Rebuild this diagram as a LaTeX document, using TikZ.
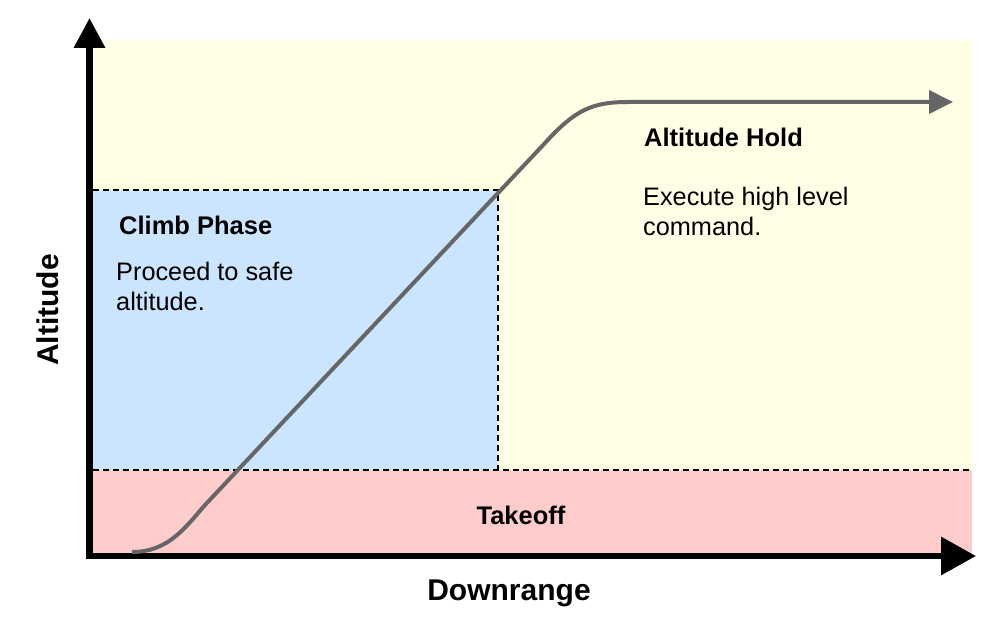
\documentclass[tikz,border=0pt]{standalone}
\usepackage{fontspec}
\setmainfont{Liberation Sans}
\usetikzlibrary{arrows.meta}
\definecolor{holdbg}{HTML}{FFFFE5}
\definecolor{climbbg}{HTML}{CCE5FF}
\definecolor{takeoffbg}{HTML}{FFCCCC}
\definecolor{pathgray}{HTML}{666666}
\tikzset{
  x=1pt, y=-1pt,
  zoneline/.style={line width=1.5pt, dash pattern=on 6pt off 4pt},
  axisline/.style={line width=6.5pt},
  flightpath/.style={draw=pathgray, line width=4pt, line join=round},
  bodytext/.style={inner sep=0pt, font=\fontsize{25.3}{30}\selectfont, align=left},
  headtext/.style={inner sep=0pt, font=\fontsize{25.5}{30}\selectfont\bfseries},
  axistext/.style={inner sep=0pt, font=\fontsize{30}{36}\selectfont\bfseries}
}
\begin{document}
\begin{tikzpicture}
\useasboundingbox (0,0) rectangle (997,623);
% zones
\fill[holdbg] (93,40) rectangle (972,470);
\fill[climbbg] (93,190) rectangle (498,470);
\fill[takeoffbg] (93,470) rectangle (972,553);
\draw[zoneline] (93,190) -- (498,190) -- (498,470);
\draw[zoneline] (93,470) -- (972,470);
% axes
\coordinate (origin) at (89.5,556);
\coordinate (ytip) at (89.5,18);
\coordinate (xtip) at (976,556);
\draw[axisline, -{Triangle[width=30pt,length=30pt]}] (89.5,559) -- (ytip);
\draw[axisline, -{Triangle[width=37pt,length=35pt]}] (86.5,556) -- (xtip);
% flight path
\coordinate (start) at (132,552);
\coordinate (end) at (953,102);
\draw[flightpath, -{Triangle[width=23pt,length=24pt]}] (start) .. controls (168,552) and (185,528) .. (205,505) -- (545,143) .. controls (575,110) and (592,102) .. (628,102) -- (end);
% labels
\node[headtext, anchor=base west] (holdtitle) at (644,147) {Altitude Hold};
\node[bodytext, anchor=base west] (holdtext) at (643,236) {Execute high level\\command.};
\node[headtext, anchor=base west] (climbtitle) at (119,234) {Climb Phase};
\node[bodytext, anchor=base west] (climbtext) at (116,310) {Proceed to safe\\altitude.};
\node[headtext, anchor=base] (takeofftitle) at (521,524) {Takeoff};
\node[axistext, anchor=base] (xlabel) at (509,600) {Downrange};
\node[axistext, anchor=base, rotate=90] (ylabel) at (58,310) {Altitude};
\end{tikzpicture}
\end{document}
